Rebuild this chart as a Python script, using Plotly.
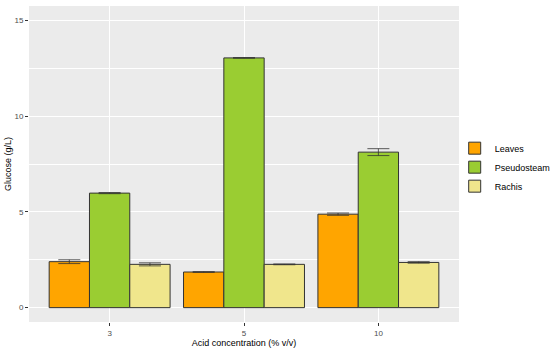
import plotly.graph_objects as go

categories = ["3", "5", "10"]
series_names = ["Leaves", "Pseudosteam", "Rachis"]
leaves = [2.40, 1.86, 4.88]
leaves_err = [0.10, 0.02, 0.06]
pseudo = [5.98, 13.04, 8.12]
pseudo_err = [0.03, 0.02, 0.18]
rachis = [2.26, 2.26, 2.36]
rachis_err = [0.08, 0.02, 0.04]
colors = ["#FFA500", "#9ACD32", "#F0E68C"]

fig = go.Figure()
for name, vals, errs, col in zip(series_names, [leaves, pseudo, rachis],
                                 [leaves_err, pseudo_err, rachis_err], colors):
    fig.add_trace(go.Bar(
        x=categories, y=vals, name=name,
        marker=dict(color=col, line=dict(color="#333333", width=1)),
        error_y=dict(type="data", array=errs, visible=True,
                     color="#333333", thickness=0.8, width=11),
    ))

font_family = "Arial, Liberation Sans, sans-serif"
fig.update_layout(
    width=550, height=352,
    margin=dict(l=29, r=91, t=6, b=30, autoexpand=False),
    paper_bgcolor="white", plot_bgcolor="#EBEBEB",
    barmode="group", bargap=0.1, bargroupgap=0,
    font=dict(family=font_family, size=9, color="#000000"),
    legend=dict(x=0.99, y=0.49, xanchor="left", yanchor="middle",
                font=dict(size=9, color="#000000"), bgcolor="rgba(0,0,0,0)",
                tracegroupgap=0, itemwidth=30),
    xaxis=dict(type="category", range=[-0.6, 2.6], automargin=False,
               showgrid=True, gridcolor="white", gridwidth=1.2,
               ticks="outside", ticklen=3, tickcolor="#333333", tickwidth=1,
               tickfont=dict(size=8, color="#4D4D4D"),
               title=dict(text="Acid concentration (% v/v)", font=dict(size=9), standoff=3),
               zeroline=False, showline=False),
    yaxis=dict(range=[-0.75, 15.75], tickvals=[0, 5, 10, 15], automargin=False,
               showgrid=True, gridcolor="white", gridwidth=1.2,
               minor=dict(tickvals=[2.5, 7.5, 12.5], showgrid=True,
                          gridcolor="white", gridwidth=0.6),
               ticks="outside", ticklen=3, tickcolor="#333333", tickwidth=1,
               tickfont=dict(size=8, color="#4D4D4D"),
               title=dict(text="Glucose (g/L)", font=dict(size=9), standoff=1),
               zeroline=False, showline=False),
)

fig.write_html("out.html", config={"displayModeBar": False},
               post_script="document.body.style.margin='0';document.body.style.padding='0';")
